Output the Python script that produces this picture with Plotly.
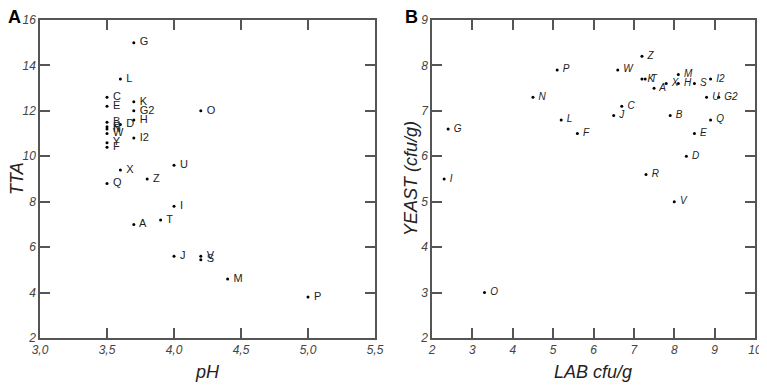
import plotly.graph_objects as go

# Panel A: pH vs TTA
names_a = ["G", "L", "C", "E", "K", "G2", "O", "H", "D", "B", "R", "N", "W", "Y", "F",
           "I2", "U", "X", "Q", "Z", "I", "T", "A", "J", "V", "S", "M", "P"]
ph = [3.7, 3.6, 3.5, 3.5, 3.7, 3.7, 4.2, 3.7, 3.6, 3.5, 3.5, 3.5, 3.5, 3.5, 3.5,
      3.7, 4.0, 3.6, 3.5, 3.8, 4.0, 3.9, 3.7, 4.0, 4.2, 4.2, 4.4, 5.0]
tta = [15.0, 13.4, 12.6, 12.2, 12.4, 12.0, 12.0, 11.6, 11.4, 11.5, 11.3, 11.2, 11.0, 10.6, 10.4,
       10.8, 9.6, 9.4, 8.8, 9.0, 7.8, 7.2, 7.0, 5.6, 5.6, 5.45, 4.6, 3.8]

# Panel B: LAB vs YEAST
names_b = ["Z", "P", "W", "K", "T", "M", "A", "X", "H", "S", "I2", "N", "U", "G2",
           "C", "J", "B", "L", "Q", "G", "F", "E", "D", "R", "I", "V", "O"]
lab = [7.2, 5.1, 6.6, 7.2, 7.28, 8.1, 7.5, 7.8, 8.1, 8.5, 8.9, 4.5, 8.8, 9.1,
       6.7, 6.5, 7.9, 5.2, 8.9, 2.4, 5.6, 8.5, 8.3, 7.3, 2.3, 8.0, 3.3]
yeast = [8.2, 7.9, 7.9, 7.7, 7.7, 7.8, 7.5, 7.6, 7.6, 7.6, 7.7, 7.3, 7.3, 7.3,
         7.1, 6.9, 6.9, 6.8, 6.8, 6.6, 6.5, 6.5, 6.0, 5.6, 5.5, 5.0, 3.0]

ticks_a_x = [3.0, 3.5, 4.0, 4.5, 5.0, 5.5]
ticks_a_x_text = ["3,0", "3,5", "4,0", "4,5", "5,0", "5,5"]
ticks_a_y = [2, 4, 6, 8, 10, 12, 14, 16]
ticks_b_x = [2, 3, 4, 5, 6, 7, 8, 9, 10]
ticks_b_y = [2, 3, 4, 5, 6, 7, 8, 9]

FONT = "Liberation Sans, Arial, sans-serif"
OFF = 8  # page body margin around the plot div
W, H = 767 - OFF, 388 - OFF
ML, MR, MT, MB = 40 - OFF, 12, 20 - OFF, 50
PW, PH = W - ML - MR, H - MT - MB

fig = go.Figure()

fig.add_trace(go.Scatter(
    x=ph, y=tta, text=[" " + n for n in names_a], mode="markers+text",
    textposition="middle right",
    textfont=dict(family=FONT, size=11, color="#222"),
    marker=dict(size=3, color="black"),
    xaxis="x", yaxis="y", showlegend=False, cliponaxis=False,
))
fig.add_trace(go.Scatter(
    x=lab, y=yeast, text=[" " + n for n in names_b], mode="markers+text",
    textposition="middle right",
    textfont=dict(family=FONT, size=10, color="#222", style="italic"),
    marker=dict(size=3, color="black"),
    xaxis="x2", yaxis="y2", showlegend=False, cliponaxis=False,
))

axis_common = dict(
    showline=True, linecolor="#555", linewidth=1.5, mirror="ticks",
    ticks="inside", ticklen=10, tickcolor="#555", tickwidth=1.5,
    showgrid=False, zeroline=False, automargin=False,
    tickfont=dict(family=FONT, size=12, color="#444", style="italic"),
)

fig.update_layout(
    width=W, height=H,
    margin=dict(l=ML, r=MR, t=MT, b=MB),
    plot_bgcolor="white", paper_bgcolor="white",
    xaxis=dict(domain=[0, (375 - 40) / PW], range=[3.0, 5.5], tickvals=ticks_a_x,
               ticktext=ticks_a_x_text, anchor="y", **axis_common),
    yaxis=dict(range=[2, 16], tickvals=ticks_a_y, anchor="x", **axis_common),
    xaxis2=dict(domain=[(432 - 40) / PW, 1], range=[2, 10], tickvals=ticks_b_x,
                anchor="y2", **axis_common),
    yaxis2=dict(range=[2, 9], tickvals=ticks_b_y, anchor="x2", **axis_common),
)


def px_note(text, x, y, size, angle=0, bold=False, italic=False):
    # x, y are page pixels as measured on the reference
    fx, fy = x - OFF, y - OFF
    fig.add_annotation(
        text=f"<b>{text}</b>" if bold else text,
        x=(fx - ML) / PW, y=1 - (fy - MT) / PH, xref="paper", yref="paper",
        xanchor="center", yanchor="middle", showarrow=False, textangle=angle,
        font=dict(family=FONT, size=size, color="black" if bold else "#222",
                  style="italic" if italic else "normal"),
    )


# panel letters and axis titles
px_note("A", 14, 17, 18, bold=True)
px_note("B", 411, 17, 18, bold=True)
px_note("TTA", 17, 179, 18, angle=-90, italic=True)
px_note("pH", 207, 372, 18, italic=True)
px_note("YEAST (cfu/g)", 411, 179, 18, angle=-90, italic=True)
px_note("LAB cfu/g", 593, 372, 18, italic=True)

fig.write_html("out.html")
